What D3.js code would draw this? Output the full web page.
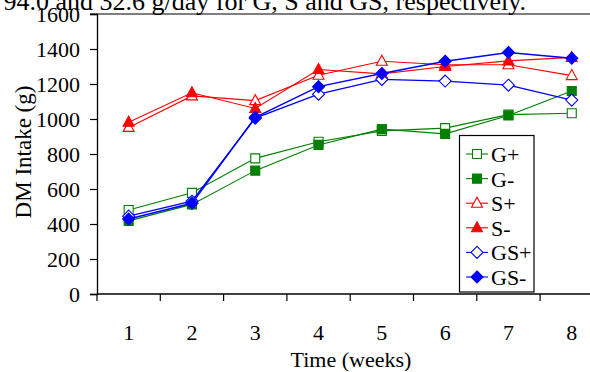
<!DOCTYPE html>
<html>
<head>
<meta charset="utf-8">
<script src="https://cdn.jsdelivr.net/npm/d3@7"></script>
<style>
  html, body { margin: 0; padding: 0; background: #fff; }
  svg { display: block; font-family: "Liberation Serif", "Times New Roman", serif; }
</style>
</head>
<body>
<svg id="chart" width="590" height="372"></svg>
<script>
// Weekly dry-matter intake (g) per treatment group
const weeks = [1, 2, 3, 4, 5, 6, 7, 8];
const gPlus  = [480, 578, 775, 870, 932, 948, 1025, 1033];
const gMinus = [418, 512, 705, 852, 942, 915, 1020, 1160];
const sPlus  = [952, 1132, 1105, 1250, 1330, 1310, 1310, 1248];
const sMinus = [982, 1150, 1060, 1283, 1258, 1300, 1332, 1352];
const gsPlus  = [445, 530, 1005, 1142, 1226, 1217, 1193, 1108];
const gsMinus = [428, 518, 1010, 1185, 1260, 1330, 1380, 1347];
const yTicks = [0, 200, 400, 600, 800, 1000, 1200, 1400, 1600];
const seriesNames = ["G+", "G-", "S+", "S-", "GS+", "GS-"];
const headerText = "94.0 and 32.6 g/day for G, S and GS, respectively.";

const series = [
  { name: seriesNames[0], values: gPlus,  color: "#008000", shape: "square",   filled: false, width: 1.1 },
  { name: seriesNames[1], values: gMinus, color: "#008000", shape: "square",   filled: true,  width: 1.1 },
  { name: seriesNames[2], values: sPlus,  color: "#ff0000", shape: "triangle", filled: false, width: 1.1 },
  { name: seriesNames[3], values: sMinus, color: "#ff0000", shape: "triangle", filled: true,  width: 1.1 },
  { name: seriesNames[4], values: gsPlus,  color: "#0000ff", shape: "diamond", filled: false, width: 1.3 },
  { name: seriesNames[5], values: gsMinus, color: "#0000ff", shape: "diamond", filled: true,  width: 1.5 }
];

const serif = "Liberation Serif, Times New Roman, serif";
const svg = d3.select("#chart");
const plotLeft = 97, plotTop = 14, plotBottom = 294, bandStep = 63.3;

const x = d3.scaleBand().domain(weeks).range([plotLeft, plotLeft + bandStep * weeks.length]);
const y = d3.scaleLinear().domain([0, 1600]).range([plotBottom, plotTop]);
const cx = d => x(d) + x.bandwidth() / 2;

// text line above the chart
svg.append("text")
  .attr("x", 526).attr("y", 9.5)
  .attr("text-anchor", "end")
  .attr("font-family", serif)
  .style("font-size", "26px")
  .text(headerText);

// rule along the top value of the axis
svg.append("line")
  .attr("x1", 90).attr("x2", 590)
  .attr("y1", y(1600)).attr("y2", y(1600))
  .attr("stroke", "#000").attr("stroke-width", 1.2);

// y axis
const yAxis = svg.append("g")
  .attr("transform", `translate(${plotLeft},0)`)
  .call(d3.axisLeft(y).tickValues(yTicks).tickFormat(d3.format("d")).tickSize(7).tickPadding(10))
  .attr("font-family", serif)
  .attr("font-size", 22);
yAxis.select(".domain").attr("stroke-width", 1.3);
yAxis.selectAll(".tick line").attr("stroke-width", 1.2);
yAxis.selectAll(".tick text").attr("fill", "#000").attr("font-family", serif);

// x axis: labels centred in bands, ticks on band boundaries
const xAxis = svg.append("g")
  .attr("transform", `translate(0,${plotBottom})`)
  .call(d3.axisBottom(x).tickSize(0).tickPadding(30))
  .attr("font-family", serif)
  .attr("font-size", 22);
xAxis.select(".domain").remove();
xAxis.append("line")
  .attr("x1", plotLeft).attr("x2", 590).attr("y1", 0).attr("y2", 0)
  .attr("stroke", "#000").attr("stroke-width", 1.3);
xAxis.selectAll(".boundary")
  .data(weeks)
  .join("line")
  .attr("class", "boundary")
  .attr("x1", d => x(d)).attr("x2", d => x(d))
  .attr("y1", 0).attr("y2", 7)
  .attr("stroke", "#000").attr("stroke-width", 1.2);
xAxis.selectAll(".tick text").attr("fill", "#000").attr("font-family", serif);

// axis titles
svg.append("text")
  .attr("transform", `translate(31,152) rotate(-90)`)
  .attr("text-anchor", "middle")
  .attr("font-family", serif)
  .style("font-size", "23px")
  .text("DM Intake (g)");
svg.append("text")
  .attr("x", 351).attr("y", 367)
  .attr("text-anchor", "middle")
  .attr("font-family", serif)
  .style("font-size", "22px")
  .text("Time (weeks)");

// marker path generator
function markerPath(shape) {
  if (shape === "square") return "M-4.5,-4.5H4.5V4.5H-4.5Z";
  if (shape === "triangle") return "M0,-6L5.5,4L-5.5,4Z";
  return "M0,-6L6,0L0,6L-6,0Z";
}

const line = d3.line().x((d, i) => cx(weeks[i])).y(d => y(d));

series.forEach(s => {
  const g = svg.append("g");
  g.append("path")
    .attr("d", line(s.values))
    .attr("fill", "none")
    .attr("stroke", s.color)
    .attr("stroke-width", s.width);
  g.selectAll("path.mk")
    .data(s.values)
    .join("path")
    .attr("class", "mk")
    .attr("transform", (d, i) => `translate(${cx(weeks[i])},${y(d)})`)
    .attr("d", markerPath(s.shape))
    .attr("fill", s.filled ? s.color : "#fff")
    .attr("stroke", s.color)
    .attr("stroke-width", 1.1);
});

// legend
const lg = svg.append("g");
lg.append("rect")
  .attr("x", 459.5).attr("y", 135.5).attr("width", 74.5).attr("height", 156.5)
  .attr("fill", "#fff").attr("stroke", "#000").attr("stroke-width", 1.2);
series.forEach((s, i) => {
  const yy = 154 + i * 24.6;
  lg.append("line")
    .attr("x1", 466).attr("x2", 488).attr("y1", yy).attr("y2", yy)
    .attr("stroke", s.color).attr("stroke-width", 1.1);
  lg.append("path")
    .attr("transform", `translate(477,${yy})`)
    .attr("d", markerPath(s.shape))
    .attr("fill", s.filled ? s.color : "#fff")
    .attr("stroke", s.color)
    .attr("stroke-width", 1.1);
  lg.append("text")
    .attr("x", 491).attr("y", yy + 8)
    .attr("font-family", serif)
    .style("font-size", "22px")
    .text(s.name);
});
</script>
</body>
</html>
